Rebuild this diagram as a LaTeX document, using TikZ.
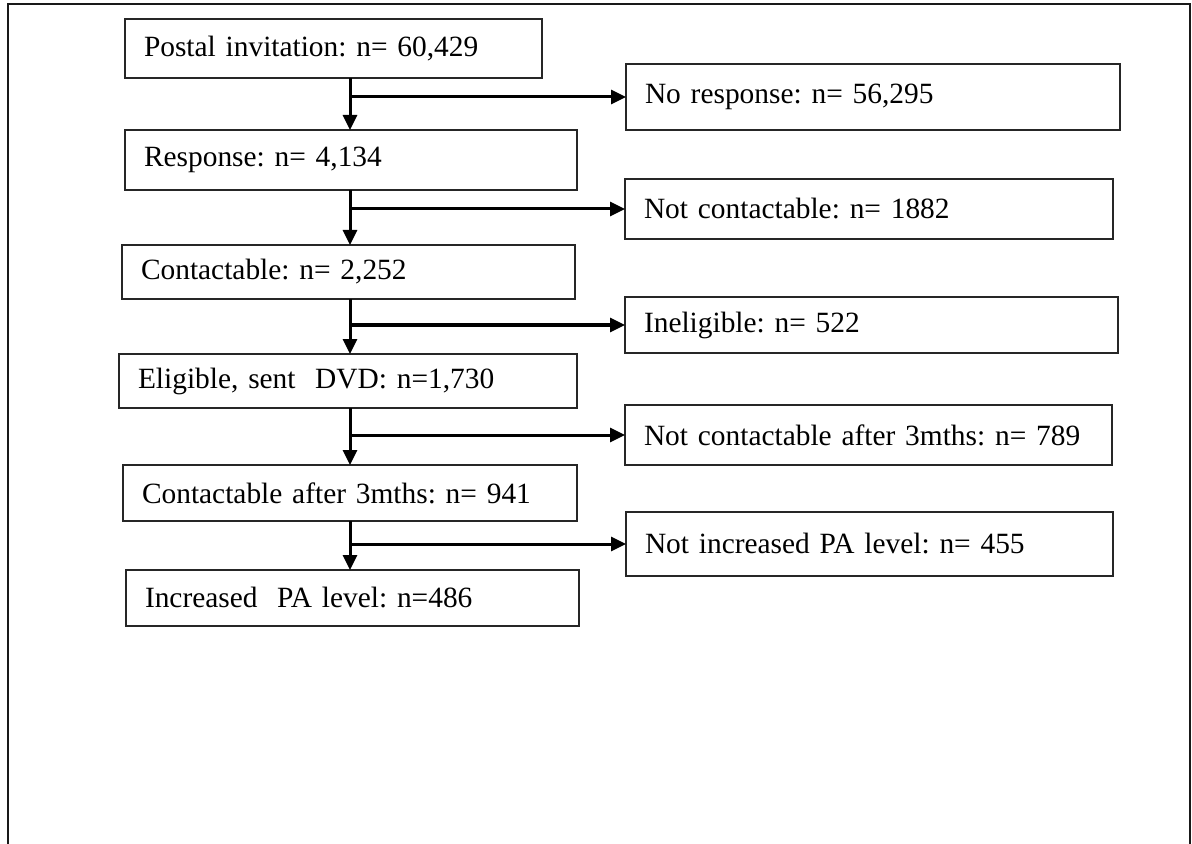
\documentclass[tikz,border=0pt]{standalone}
\usepackage{fontspec}
\setmainfont{Liberation Serif}
\usetikzlibrary{arrows.meta}
\frenchspacing
\begin{document}
\begin{tikzpicture}[x=0.5pt,y=-0.5pt,
  box/.style={draw=black!85, line width=1pt, inner xsep=9.5pt, inner ysep=0pt,
    outer sep=0pt, align=left, anchor=north west, font=\fontsize{14.7}{18}\selectfont\frenchspacing},
  arr/.style={line width=1.5pt, -{Triangle[length=7.5pt,width=7pt]}},
  frame/.style={line width=1.3pt, draw=black!90}]
\useasboundingbox (0,0) rectangle (1192,844);
\draw[frame] (8,846) -- (8,4) -- (1190,4) -- (1190,846);
\coordinate (spine) at (350,0);
\node[box, minimum width=208.5pt, text width=189.5pt, minimum height=29.5pt] (b1) at (125,19) {Postal invitation: n= 60,429};
\node[box, minimum width=247pt, text width=228pt, minimum height=33pt] (r1) at (626,64) {No response: n= 56,295};
\node[box, minimum width=226pt, text width=207pt, minimum height=30pt] (b2) at (125,130) {Response: n= 4,134};
\node[box, minimum width=244pt, text width=225pt, minimum height=30pt] (r2) at (625,179) {Not contactable: n= 1882};
\node[box, minimum width=226.5pt, text width=207.5pt, minimum height=27pt] (b3) at (122,245) {Contactable: n= 2,252};
\node[box, minimum width=246.5pt, text width=227.5pt, minimum height=28pt] (r3) at (625,297) {Ineligible: n= 522};
\node[box, minimum width=229pt, text width=210pt, minimum height=27pt] (b4) at (119,354) {Eligible, sent\ \ DVD: n=1,730};
\node[box, minimum width=243.5pt, text width=224.5pt, minimum height=30pt] (r4) at (625,405) {Not contactable after 3mths: n= 789};
\node[box, minimum width=227pt, text width=208pt, minimum height=28pt] (b5) at (123,465) {Contactable after 3mths: n= 941};
\node[box, minimum width=243.5pt, text width=224.5pt, minimum height=32pt] (r5) at (626,512) {Not increased PA level: n= 455};
\node[box, minimum width=226.5pt, text width=207.5pt, minimum height=28pt] (b6) at (126,570) {Increased\ \ PA level: n=486};
\foreach \a/\b/\r in {b1/b2/r1, b2/b3/r2, b3/b4/r3, b4/b5/r4, b5/b6/r5} {
  \draw[arr] (\a.south -| spine) -- (\b.north -| spine);
  \draw[arr] (spine |- \r.west) -- (\r.west);
}
\end{tikzpicture}
\end{document}
